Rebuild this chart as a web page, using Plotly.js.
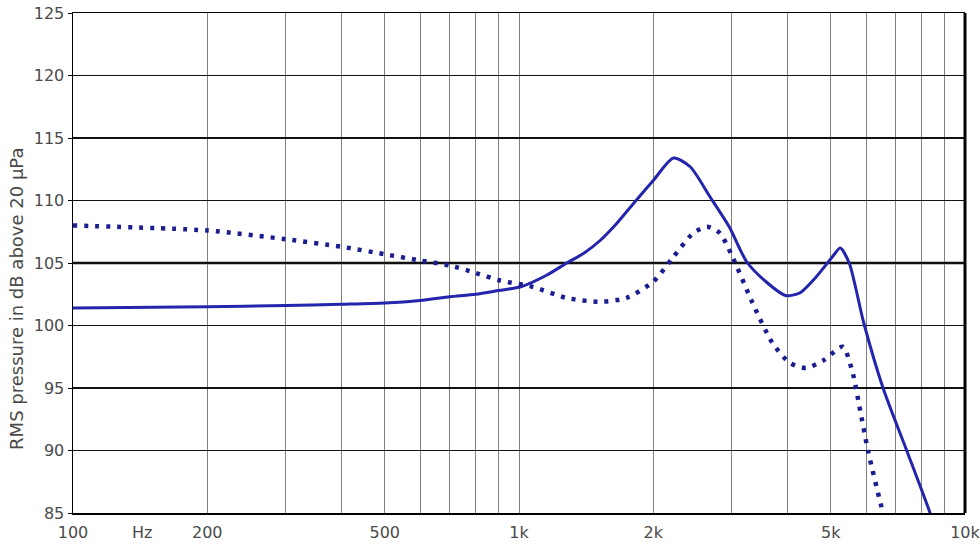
<!DOCTYPE html>
<html>
<head>
<meta charset="utf-8">
<script src="https://cdn.plot.ly/plotly-3.0.1.min.js"></script>
<style>html,body{margin:0;padding:0;background:#fff}#chart{width:980px;height:548px}</style>
</head>
<body>
<div id="chart"></div>
<script>
// Solid curve (frequency in Hz, level in dB)
const freqSolid = [100, 200, 300, 400, 500, 600, 700, 800, 900, 1010, 1150, 1280, 1400, 1520, 1650, 1810, 2000, 2220, 2420, 2680, 2960, 3240, 3580, 3960, 4260, 4640, 5070, 5250, 5500, 5930, 6550, 7400, 8350, 8700];
const splSolid  = [101.4, 101.5, 101.6, 101.7, 101.8, 102.0, 102.3, 102.5, 102.8, 103.1, 104.0, 105.0, 105.8, 106.8, 108.1, 109.8, 111.6, 113.4, 112.7, 110.3, 107.9, 105.1, 103.5, 102.4, 102.6, 103.9, 105.6, 106.2, 105.0, 100.2, 95.0, 90.0, 85.0, 83.0];

// Dotted curve
const freqDotted = [100, 200, 300, 400, 500, 600, 700, 800, 907, 1070, 1280, 1520, 1740, 2000, 2220, 2460, 2640, 2820, 3010, 3340, 3700, 4050, 4400, 4810, 5320, 5600, 5800, 6060, 6550, 6800];
const splDotted  = [108.0, 107.6, 106.9, 106.3, 105.7, 105.2, 104.8, 104.2, 103.6, 103.1, 102.2, 101.9, 102.2, 103.5, 105.5, 107.4, 107.9, 107.4, 105.5, 101.8, 98.6, 97.0, 96.6, 97.2, 98.3, 96.2, 93.5, 90.0, 85.0, 83.0];

const tickVals = [100, 143, 200, 500, 1000, 2000, 5000, 10000];
const tickText = ["100", "Hz", "200", "500", "1k", "2k", "5k", "10k"];
const gridVals = [100,200,300,400,500,600,700,800,900,1000,2000,3000,4000,5000,6000,7000,8000,9000,10000];
const yTitle = "RMS pressure in dB above 20 µPa";

const blue = "#2424ad";
const fontFam = "DejaVu Sans, Liberation Sans, Arial, sans-serif";
const textCol = "#4a4a4a";

const traces = [
  {x: freqSolid, y: splSolid, type: "scatter", mode: "lines",
   line: {color: blue, width: 3, shape: "spline", smoothing: 0.7}, hoverinfo: "skip", cliponaxis: true},
  {x: freqDotted, y: splDotted, type: "scatter", mode: "lines",
   line: {color: "#1d1d92", width: 4.5, dash: "4px,7px", shape: "spline", smoothing: 0.7}, hoverinfo: "skip", cliponaxis: true}
];

const layout = {
  width: 980, height: 548,
  margin: {l: 73, r: 15, t: 13, b: 35},
  paper_bgcolor: "#fff", plot_bgcolor: "#fff",
  showlegend: false,
  font: {family: fontFam, size: 16, color: textCol},
  xaxis: {
    type: "log", range: [2, 4], fixedrange: true,
    tickmode: "array", tickvals: tickVals, ticktext: tickText,
    showgrid: false, ticks: "", zeroline: false, ticklabelstandoff: 4,
    ticklabeloverflow: "allow",
    showline: true, linecolor: "#000", linewidth: 1.5, mirror: true,
    tickfont: {family: fontFam, size: 16, color: textCol},
    minor: {tickmode: "array", tickvals: gridVals, showgrid: true, gridcolor: "#808080", gridwidth: 1, ticks: ""}
  },
  yaxis: {
    range: [85, 125], fixedrange: true,
    tickmode: "linear", tick0: 85, dtick: 5,
    showgrid: true, gridcolor: "#111", gridwidth: 1.3,
    ticks: "outside", ticklen: 4, tickcolor: "#000", tickwidth: 1,
    showline: true, linecolor: "#000", linewidth: 1.5, zeroline: false,
    tickfont: {family: fontFam, size: 16, color: textCol}
  },
  annotations: [
    {text: yTitle, xref: "paper", yref: "paper", x: -0.064, y: 0.428, textangle: -90,
     xanchor: "center", yanchor: "middle", showarrow: false,
     font: {family: fontFam, size: 18, color: textCol}}
  ],
  shapes: [
    {type: "line", xref: "paper", yref: "y", x0: 0, x1: 1, y0: 105, y1: 105, line: {color: "#000", width: 2.5}, layer: "below"},
    {type: "line", xref: "paper", yref: "paper", x0: 1, x1: 1, y0: 0, y1: 1, line: {color: "#000", width: 3}}
  ]
};

Plotly.newPlot("chart", traces, layout, {displayModeBar: false, staticPlot: true});
</script>
</body>
</html>
